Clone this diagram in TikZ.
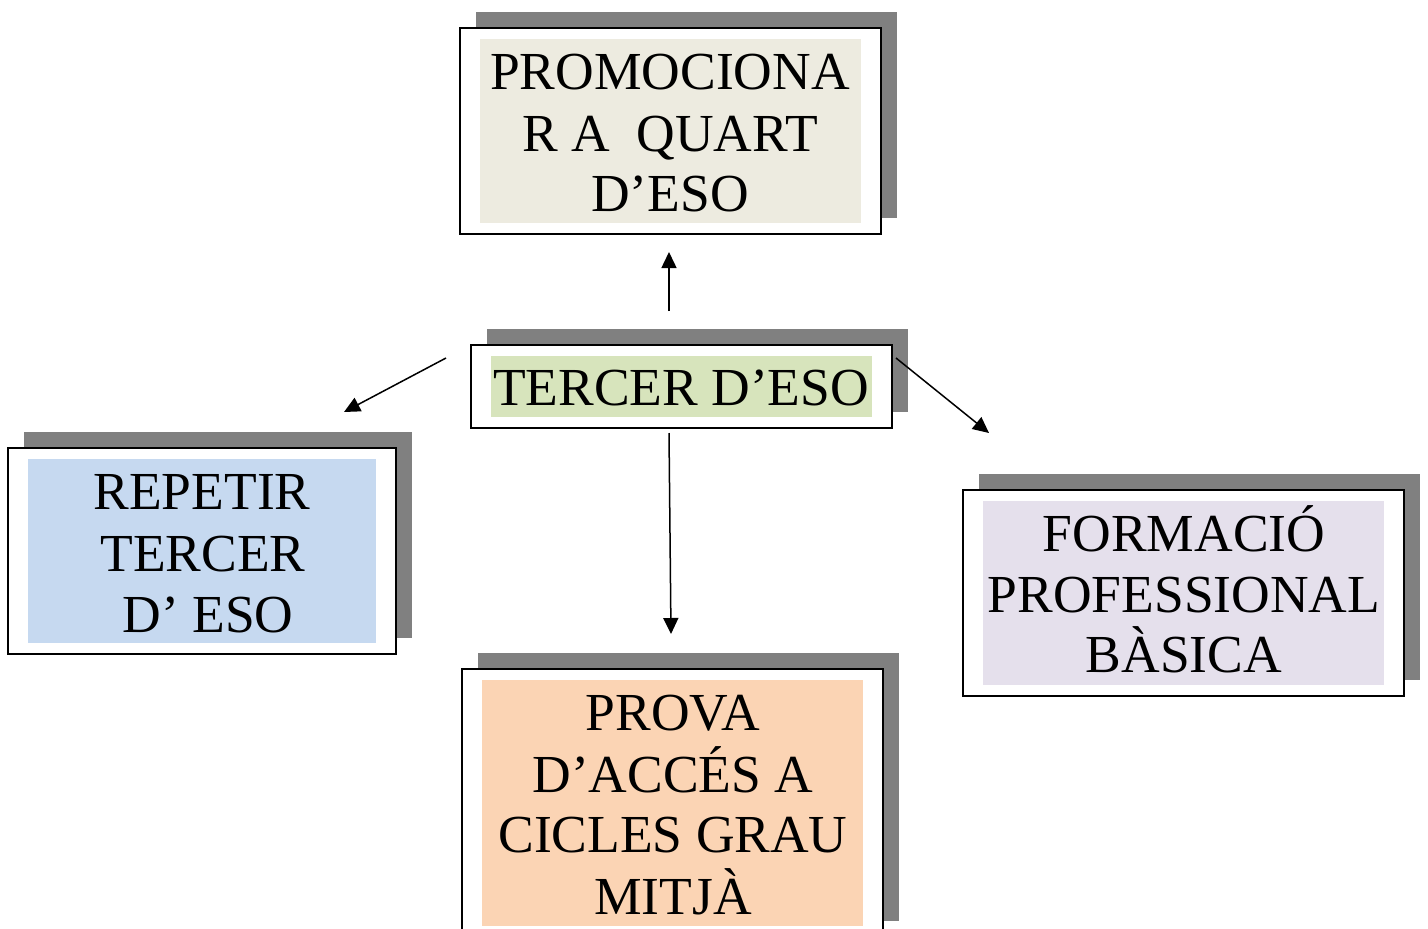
\documentclass[tikz,border=0pt]{standalone}
\usepackage{fontspec}
\setmainfont{Liberation Serif}
\usetikzlibrary{arrows.meta}
\definecolor{shadowgray}{HTML}{808080}
\definecolor{fillA}{HTML}{EDEBE0}
\definecolor{fillB}{HTML}{D7E4BC}
\definecolor{fillC}{HTML}{C6D9F0}
\definecolor{fillD}{HTML}{FBD4B4}
\definecolor{fillE}{HTML}{E5E0EC}
\newcommand\myshbox[6]{%
  \fill[shadowgray] (#2+16,#3-16) rectangle (#4+16,#5-16);
  \node[framebox, minimum width={#4-#2}, minimum height={#5-#3}] (#1) at ({(#2+#4)/2},{(#3+#5)/2}) {};
  \fill[#6] (#2+20,#3+11) rectangle (#4-20,#5-11);
}
\tikzset{
  framebox/.style={draw=black, fill=white, line width=2pt, inner sep=0pt, rectangle},
  lbl/.style={anchor=base, inner sep=0pt, font=\fontsize{53.5}{64}\selectfont},
  conn/.style={line width=1.5pt, -{Triangle[length=16pt,width=15pt]}}
}
\begin{document}
\begin{tikzpicture}[x=1pt,y=-1pt]
\useasboundingbox (0,0) rectangle (1428,929);
\clip (0,0) rectangle (1428,929);
% boxes
\myshbox{top}{460}{28}{881}{234}{fillA}
\myshbox{mid}{471}{345}{892}{428}{fillB}
\myshbox{left}{8}{448}{396}{654}{fillC}
\myshbox{right}{963}{490}{1404}{696}{fillE}
\myshbox{bot}{462}{669}{883}{937}{fillD}
% texts
\node[lbl] (t1) at (670,89) {PROMOCIONA};
\node[lbl] (t2) at (670,151) {R A\ \ QUART};
\node[lbl] (t3) at (670,211) {D’ESO};
\node[lbl] (m1) at (681,405) {TERCER D’ESO};
\node[lbl] (l1) at (202,509) {REPETIR};
\node[lbl] (l2) at (203,571) {TERCER};
\node[lbl] (l3) at (208,632) {D’ ESO};
\node[lbl] (r1) at (1184,551) {FORMACIÓ};
\node[lbl] (r2) at (1184,612) {PROFESSIONAL};
\node[lbl] (r3) at (1184,672) {BÀSICA};
\node[lbl] (b1) at (673,730) {PROVA};
\node[lbl] (b2) at (673,792) {D’ACCÉS A};
\node[lbl] (b3) at (673,852) {CICLES GRAU};
\node[lbl] (b4) at (673,914) {MITJÀ};
% connectors
\coordinate (upS) at (669,311);
\coordinate (upE) at (669,252);
\coordinate (lfS) at (446,358);
\coordinate (lfE) at (344,412);
\coordinate (rtS) at (896,358);
\coordinate (rtE) at (989,433);
\coordinate (dnS) at (669,433);
\coordinate (dnE) at (671,634);
\draw[conn] (upS) -- (upE);
\draw[conn] (lfS) -- (lfE);
\draw[conn] (rtS) -- (rtE);
\draw[conn] (dnS) -- (dnE);
\end{tikzpicture}
\end{document}
